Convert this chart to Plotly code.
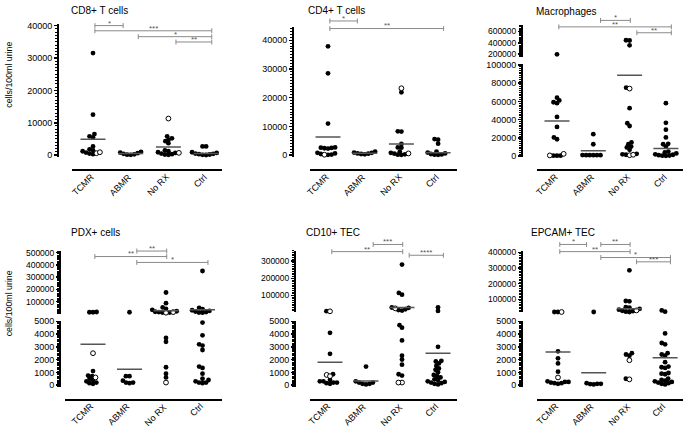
import math
import plotly.graph_objects as go

W, H = 685, 432

categories = ["TCMR", "ABMR", "No RX", "Ctrl"]
panel_titles = ["CD8+ T cells", "CD4+ T cells", "Macrophages",
                "PDX+ cells", "CD10+ TEC", "EPCAM+ TEC"]
y_title = "cells/100ml urine"

# ---------------- data (cells/100ml urine) ----------------
cd8_closed = {
    "TCMR": [31500, 12500, 6500, 5500, 5800, 2700, 1800, 1500, 1200, 800, 500, 300],
    "ABMR": [1000, 800, 600, 400, 250, 150, 100],
    "No RX": [5800, 5200, 4800, 4300, 3700, 1500, 1200, 900, 700, 500, 300, 200, 100],
    "Ctrl": [2700, 2700, 900, 700, 500, 400, 300, 200, 100, 50],
}
cd8_open = {"TCMR": [600, 900], "ABMR": [], "No RX": [11300, 700], "Ctrl": []}
cd8_mean = [4900, 500, 2500, 500]
cd8_sig = [("TCMR", "ABMR", "*"), ("TCMR", "Ctrl", "***"),
           ("ABMR", "Ctrl", "*"), ("No RX", "Ctrl", "**")]

cd4_closed = {
    "TCMR": [37900, 28500, 11000, 2700, 2600, 2500, 2400, 2300, 800, 600, 400, 200, 100],
    "ABMR": [1200, 900, 600, 400, 300, 500, 800],
    "No RX": [21900, 8300, 8200, 3900, 2700, 2600, 1200, 800, 500, 300, 150, 100],
    "Ctrl": [5600, 5400, 4000, 1200, 900, 600, 400, 250, 150, 100],
}
cd4_open = {"TCMR": [150], "ABMR": [], "No RX": [23300, 600], "Ctrl": []}
cd4_mean = [6300, 700, 3900, 800]
cd4_sig = [("TCMR", "ABMR", "*"), ("TCMR", "Ctrl", "**")]

mac_closed = {
    "TCMR": [195000, 64000, 61000, 59000, 58000, 43000, 32000, 20500, 18500, 500, 500, 500],
    "ABMR": [24000, 13000, 1200, 1000, 1000, 1000, 1000, 1000],
    "No RX": [445000, 440000, 355000, 75000, 52500, 36000, 33000, 15000, 13000,
              10500, 9500, 7000, 2500, 2000, 1500],
    "Ctrl": [58000, 36500, 29000, 20500, 13500, 13000, 10500, 5000, 4000, 3000, 2000,
             1500, 1000, 700, 500, 300],
}
mac_open = {"TCMR": [2500, 800], "ABMR": [], "No RX": [74000, 1000, 1500], "Ctrl": []}
mac_mean = [38500, 5800, 88500, 8300]
mac_sig = [("ABMR", "No RX", "*"), ("TCMR", "Ctrl", "**"), ("No RX", "Ctrl", "**")]

pdx_closed = {
    "TCMR": [14000, 14000, 16000, 1100, 750, 700, 500, 400, 300, 200, 150, 100],
    "ABMR": [14000, 700, 700, 350, 200, 150, 200],
    "No RX": [175000, 88000, 53000, 42000, 34000, 22000, 18000, 15000, 12000, 12000,
              3700, 3400, 1400, 900, 600],
    "Ctrl": [350000, 50000, 40000, 30000, 25000, 20000, 15000, 12000, 10000,
             4900, 3900, 3200, 3100, 2750, 1450, 1350, 900, 500, 400, 300, 200, 200, 150],
}
pdx_open = {"TCMR": [2500, 600], "ABMR": [], "No RX": [15000, 10000, 200], "Ctrl": []}
pdx_mean = [3200, 1250, 26000, 34000]
pdx_sig = [("ABMR", "No RX", "**"), ("TCMR", "No RX", "**"), ("ABMR", "Ctrl", "*")]

cd10_closed = {
    "TCMR": [9000, 4100, 2450, 850, 400, 300, 200, 150, 100, 200, 300],
    "ABMR": [1450, 300, 200, 100, 50, 100, 200],
    "No RX": [280000, 115000, 105000, 30000, 28000, 20000, 15000, 12000,
              4700, 4500, 3500, 2300, 2000, 1600, 850, 750],
    "Ctrl": [31000, 10000, 3000, 1900, 1850, 1700, 1500, 1300, 1200, 1000,
             800, 600, 450, 300, 200, 100, 50, 150, 250, 400, 700],
}
cd10_open = {"TCMR": [8000, 800, 700], "ABMR": [], "No RX": [25000, 200, 200], "Ctrl": []}
cd10_mean = [1800, 330, 30000, 2500]
cd10_sig = [("ABMR", "No RX", "***"), ("TCMR", "No RX", "**"), ("No RX", "Ctrl", "****")]

epcam_closed = {
    "TCMR": [20000, 20000, 2650, 2100, 1700, 1050, 300, 250, 200, 150, 100, 150, 250],
    "ABMR": [20000, 150, 100, 100, 80, 50],
    "No RX": [285000, 90000, 88000, 50000, 48000, 40000, 35000, 28000, 25000,
              22000, 20000, 2500, 2400, 2300, 500],
    "Ctrl": [30000, 22000, 4050, 3300, 3200, 2500, 2400, 2300, 1800, 1450, 1400, 1350,
             950, 900, 850, 500, 400, 350, 300, 250, 200, 150, 100, 50],
}
epcam_open = {"TCMR": [20000, 600], "ABMR": [], "No RX": [30000, 1950, 450], "Ctrl": []}
epcam_mean = [2600, 970, 40000, 2150]
epcam_sig = [("TCMR", "ABMR", "*"), ("ABMR", "No RX", "**"), ("TCMR", "No RX", "**"),
             ("ABMR", "Ctrl", "*"), ("No RX", "Ctrl", "***")]

# ---------------- layout geometry (pixels) ----------------
LOW5K = dict(cal=((0, 388.3), (5000, 323.3)), dom=(390, 322.5),
             ticks=[0, 1000, 2000, 3000, 4000, 5000], minor=100, fs=9)

panels = [
    dict(title=panel_titles[0], tpos=(70, 7), closed=cd8_closed, opn=cd8_open, mean=cd8_mean,
         sig=cd8_sig, sig_y=[22, 27.3, 33.3, 38.7], xdom=(72, 222), c0=93, sp=37.7,
         xline=169, yline=58,
         segs=[dict(cal=((0, 154), (40000, 22)), dom=(156, 20),
                    ticks=[0, 10000, 20000, 30000, 40000], minor=1000, fs=9)]),
    dict(title=panel_titles[1], tpos=(307, 7), closed=cd4_closed, opn=cd4_open, mean=cd4_mean,
         sig=cd4_sig, sig_y=[17.3, 25], xdom=(310, 457), c0=328, sp=36.7,
         xline=169, yline=293,
         segs=[dict(cal=((0, 154), (40000, 37)), dom=(156, 23),
                    ticks=[0, 10000, 20000, 30000, 40000], minor=1000, fs=9)]),
    dict(title=panel_titles[2], tpos=(535, 8), closed=mac_closed, opn=mac_open, mean=mac_mean,
         sig=mac_sig, sig_y=[16.7, 23.3, 29.3], xdom=(537, 683), c0=557, sp=36.3,
         xline=169, yline=522,
         segs=[dict(cal=((0, 155), (100000, 62)), dom=(156, 61.5),
                    ticks=[0, 20000, 40000, 60000, 80000, 100000], minor=2000, fs=9),
               dict(cal=((200000, 51), (600000, 28)), dom=(53.5, 21.5),
                    ticks=[200000, 400000, 600000], minor=20000, fs=8.5)]),
    dict(title=panel_titles[3], tpos=(70, 233), closed=pdx_closed, opn=pdx_open, mean=pdx_mean,
         sig=pdx_sig, sig_y=[251.7, 257.3, 263.3], xdom=(65, 222), c0=93, sp=36.5,
         xline=403, yline=60,
         segs=[LOW5K,
               dict(cal=((100000, 303.3), (500000, 253.3)), dom=(316, 252),
                    ticks=[100000, 200000, 300000, 400000, 500000], minor=10000, fs=8.5)]),
    dict(title=panel_titles[4], tpos=(305, 233), closed=cd10_closed, opn=cd10_open, mean=cd10_mean,
         sig=cd10_sig, sig_y=[245, 252.3, 256], xdom=(310, 457), c0=330, sp=36,
         xline=403, yline=295,
         segs=[LOW5K,
               dict(cal=((100000, 297), (300000, 262)), dom=(314, 251.5),
                    ticks=[100000, 200000, 300000], minor=10000, fs=8.5)]),
    dict(title=panel_titles[5], tpos=(530, 233), closed=epcam_closed, opn=epcam_open,
         mean=epcam_mean, sig=epcam_sig, sig_y=[245, 245, 252.3, 258.3, 262.7],
         xdom=(537, 683), c0=558, sp=35.7, xline=403, yline=522,
         segs=[LOW5K,
               dict(cal=((100000, 301), (400000, 253)), dom=(314, 252),
                    ticks=[100000, 200000, 300000, 400000], minor=10000, fs=8.5)]),
]

FONT = "Liberation Sans, Arial, sans-serif"
DIAM = 4.8          # marker diameter (px)
SWARM_D = 3.6       # collision distance (px) - dots overlap like the original
MEAN_HALF = 12.5    # half length of mean bars (px)
BR_LEFT = [0.05, 0.2, 0.2, 0.0]
BR_RIGHT = [0.0, -0.2, 0.02, 0.15]
CAT_FS = 9
CAT_EM = {"TCMR": 2.889, "ABMR": 2.889, "No RX": 2.945, "Ctrl": 1.555}


def fx(p):
    return p / W


def fy(p):
    return 1 - p / H


def seg_slope(seg):
    (v1, p1), (v2, p2) = seg["cal"]
    return (p2 - p1) / (v2 - v1)


def seg_range(seg):
    (v1, p1), _ = seg["cal"]
    s = seg_slope(seg)
    pb, pt = seg["dom"]
    return [v1 + (pb - p1) / s, v1 + (pt - p1) / s]


def to_px(seg, v):
    (v1, p1), _ = seg["cal"]
    return p1 + (v - v1) * seg_slope(seg)


def pick_seg(segs, v):
    for m, seg in enumerate(segs):
        if v <= seg_range(seg)[1]:
            return m
    return len(segs) - 1


def swarm(ys, d):
    order = sorted(range(len(ys)), key=lambda i: -ys[i])
    placed = []
    xs = [0.0] * len(ys)
    for i in order:
        y = ys[i]
        cands = [0.0]
        for (px_, py_) in placed:
            dy = y - py_
            if abs(dy) < d:
                dx = math.sqrt(d * d - dy * dy)
                cands += [px_ + dx, px_ - dx]
        cands.sort(key=lambda c: (round(abs(c), 6), c))
        for c in cands:
            if all((c - a) ** 2 + (y - b) ** 2 >= d * d - 1e-6 for a, b in placed):
                xs[i] = c
                placed.append((c, y))
                break
    return xs


fig = go.Figure()
layout = dict(width=W, height=H, margin=dict(l=0, r=0, t=0, b=0),
              paper_bgcolor="white", plot_bgcolor="white",
              font=dict(family=FONT, color="black"), showlegend=False)
shapes = []
annotations = []

ycount = 0
for k, P in enumerate(panels):
    xid = k + 1
    xname = "xaxis" if xid == 1 else f"xaxis{xid}"
    xref = "x" if xid == 1 else f"x{xid}"
    sp = P["sp"]
    layout[xname] = dict(
        domain=[fx(P["xdom"][0]), fx(P["xdom"][1])],
        range=[(P["xdom"][0] - P["c0"]) / sp, (P["xdom"][1] - P["c0"]) / sp],
        anchor="free", position=fy(P["xline"]),
        showline=True, linewidth=2, linecolor="black", ticks="",
        showticklabels=False, showgrid=False, zeroline=False, fixedrange=True)

    # rotated category labels, text end at the category position
    for ci, cat in enumerate(categories):
        w = CAT_EM[cat] * CAT_FS
        ex = P["c0"] + ci * sp - 1
        ey = P["xline"] + 6
        annotations.append(dict(text=cat, xref="paper", yref="paper",
                                x=fx(ex - 0.354 * w), y=fy(ey + 0.354 * w),
                                xanchor="center", yanchor="middle", textangle=-45,
                                showarrow=False, borderpad=0,
                                font=dict(size=CAT_FS, color="black", family=FONT)))

    segs = P["segs"]
    yrefs = []
    for m, seg in enumerate(segs):
        ycount += 1
        yname = "yaxis" if ycount == 1 else f"yaxis{ycount}"
        yref = "y" if ycount == 1 else f"y{ycount}"
        yrefs.append(yref)
        layout[yname] = dict(
            domain=[fy(seg["dom"][0]), fy(seg["dom"][1])],
            range=seg_range(seg), anchor="free", position=fx(P["yline"]),
            showline=True, linewidth=2, linecolor="black",
            ticks="outside", ticklen=3, tickwidth=1.5, tickcolor="black",
            tickmode="array", tickvals=seg["ticks"],
            ticktext=[str(t) for t in seg["ticks"]],
            tickfont=dict(size=seg["fs"], family=FONT, color="black"),
            minor=dict(ticks="outside", ticklen=2, tickwidth=1, tickcolor="black",
                       tickmode="linear", tick0=0, dtick=seg["minor"]),
            showgrid=False, zeroline=False, fixedrange=True)

    # points, laid out as a swarm in pixel space
    pts = {m: dict(cx=[], cy=[], ox=[], oy=[]) for m in range(len(segs))}
    for ci, cat in enumerate(categories):
        vals = [(v, False) for v in P["closed"][cat]] + [(v, True) for v in P["opn"][cat]]
        pys = [to_px(segs[pick_seg(segs, v)], v) for v, _ in vals]
        offs = swarm(pys, SWARM_D)
        for (v, is_open), off in zip(vals, offs):
            m = pick_seg(segs, v)
            key = ("ox", "oy") if is_open else ("cx", "cy")
            pts[m][key[0]].append(ci + off / sp)
            pts[m][key[1]].append(v)
    for m in range(len(segs)):
        d = pts[m]
        if d["cx"]:
            fig.add_trace(go.Scatter(x=d["cx"], y=d["cy"], xaxis=xref, yaxis=yrefs[m],
                                     mode="markers", cliponaxis=False, hoverinfo="skip",
                                     marker=dict(size=DIAM, color="black",
                                                 line=dict(width=0))))
        if d["ox"]:
            fig.add_trace(go.Scatter(x=d["ox"], y=d["oy"], xaxis=xref, yaxis=yrefs[m],
                                     mode="markers", cliponaxis=False, hoverinfo="skip",
                                     marker=dict(size=DIAM, color="white",
                                                 line=dict(width=1, color="black"))))

    # mean bars
    for ci, mv in enumerate(P["mean"]):
        m = pick_seg(segs, mv)
        shapes.append(dict(type="line", xref=xref, yref=yrefs[m],
                           x0=ci - MEAN_HALF / sp, x1=ci + MEAN_HALF / sp, y0=mv, y1=mv,
                           line=dict(color="#555555", width=1.5)))

    # significance brackets
    for (a, b, lab), by in zip(P["sig"], P["sig_y"]):
        i, j = categories.index(a), categories.index(b)
        xa, xb = i + BR_LEFT[i], j + BR_RIGHT[j]
        shapes.append(dict(type="line", xref=xref, yref="paper", x0=xa, x1=xb,
                           y0=fy(by), y1=fy(by), line=dict(color="#8a8a8a", width=1)))
        for xe in (xa, xb):
            shapes.append(dict(type="line", xref=xref, yref="paper", x0=xe, x1=xe,
                               y0=fy(by - 2.5), y1=fy(by + 2.5),
                               line=dict(color="#8a8a8a", width=1)))
        annotations.append(dict(text=lab, xref=xref, yref="paper", x=(xa + xb) / 2,
                                y=fy(by + 3), yanchor="bottom", xanchor="center",
                                showarrow=False, borderpad=0,
                                font=dict(size=8, color="#555555")))

    annotations.append(dict(text=P["title"], xref="paper", yref="paper",
                            x=fx(P["tpos"][0]), y=fy(P["tpos"][1]), xanchor="left",
                            yanchor="middle", showarrow=False, borderpad=0,
                            font=dict(size=10, color="black")))

for yc in (72, 305):
    annotations.append(dict(text=y_title, xref="paper", yref="paper", x=fx(9), y=fy(yc),
                            xanchor="center", yanchor="middle", textangle=-90,
                            showarrow=False, borderpad=0,
                            font=dict(size=8.8, color="black")))

layout["shapes"] = shapes
layout["annotations"] = annotations
fig.update_layout(**layout)
fig.write_html("out.html",
               config={"displayModeBar": False, "staticPlot": True},
               post_script="document.body.style.margin='0px';"
                           "document.body.style.padding='0px';")
